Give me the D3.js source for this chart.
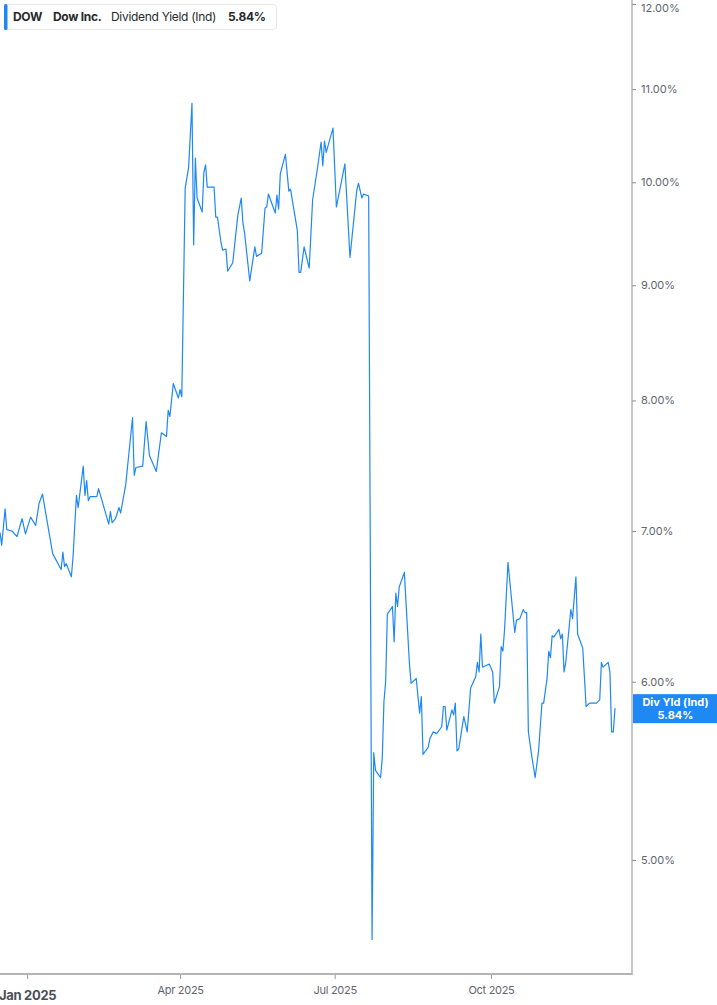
<!DOCTYPE html>
<html>
<head>
<meta charset="utf-8">
<script src="https://cdn.jsdelivr.net/npm/d3@7"></script>
<style>
  body { margin: 0; background: #fff; }
  svg { display: block; font-family: Inter, "Open Sans", sans-serif; }
</style>
</head>
<body>
<svg id="chart" width="717" height="1005"></svg>
<script>
var dates = [
  "2024-12-16","2024-12-17","2024-12-19","2024-12-20","2024-12-23","2024-12-26","2024-12-29","2024-12-31",
  "2025-01-03","2025-01-06","2025-01-08","2025-01-10","2025-01-16","2025-01-21","2025-01-22","2025-01-23",
  "2025-01-24","2025-01-27","2025-01-28","2025-01-30","2025-01-31","2025-02-03","2025-02-04","2025-02-05",
  "2025-02-06","2025-02-07","2025-02-11","2025-02-12","2025-02-18","2025-02-19","2025-02-20","2025-02-22",
  "2025-02-24","2025-02-25","2025-02-28","2025-03-04","2025-03-05","2025-03-06","2025-03-10","2025-03-12",
  "2025-03-14","2025-03-18","2025-03-21","2025-03-24","2025-03-25","2025-03-26","2025-03-28","2025-03-31",
  "2025-04-01","2025-04-02","2025-04-04","2025-04-06","2025-04-08","2025-04-09","2025-04-10","2025-04-11",
  "2025-04-14","2025-04-15","2025-04-16","2025-04-17","2025-04-21","2025-04-22","2025-04-23","2025-04-25",
  "2025-04-26","2025-04-28","2025-04-29","2025-05-02","2025-05-05","2025-05-07","2025-05-08","2025-05-09",
  "2025-05-12","2025-05-15","2025-05-16","2025-05-19","2025-05-21","2025-05-22","2025-05-23","2025-05-27",
  "2025-05-28","2025-05-29","2025-05-30","2025-06-02","2025-06-04","2025-06-05","2025-06-09","2025-06-10",
  "2025-06-11","2025-06-13","2025-06-16","2025-06-18","2025-06-21","2025-06-23","2025-06-24","2025-06-25",
  "2025-06-26","2025-06-30","2025-07-02","2025-07-07","2025-07-10","2025-07-14","2025-07-15","2025-07-17",
  "2025-07-18","2025-07-21","2025-07-23","2025-07-24","2025-07-25","2025-07-28","2025-07-29","2025-07-30",
  "2025-07-31","2025-08-01","2025-08-04","2025-08-05","2025-08-06","2025-08-07","2025-08-08","2025-08-11",
  "2025-08-14","2025-08-15","2025-08-18","2025-08-20","2025-08-21","2025-08-22","2025-08-25","2025-08-26",
  "2025-08-28","2025-08-30","2025-09-02","2025-09-03","2025-09-04","2025-09-05","2025-09-08","2025-09-09",
  "2025-09-10","2025-09-11","2025-09-12","2025-09-15","2025-09-17","2025-09-19","2025-09-22","2025-09-23",
  "2025-09-24","2025-09-25","2025-09-26","2025-09-30","2025-10-02","2025-10-03","2025-10-06","2025-10-07",
  "2025-10-08","2025-10-09","2025-10-11","2025-10-13","2025-10-15","2025-10-16","2025-10-18","2025-10-20",
  "2025-10-21","2025-10-22","2025-10-23","2025-10-25","2025-10-27","2025-10-29","2025-10-31","2025-11-01",
  "2025-11-03","2025-11-04","2025-11-05","2025-11-06","2025-11-07","2025-11-10","2025-11-11","2025-11-12",
  "2025-11-13","2025-11-14","2025-11-17","2025-11-18","2025-11-20","2025-11-21","2025-11-24","2025-11-26",
  "2025-11-28","2025-12-02","2025-12-04","2025-12-05","2025-12-06","2025-12-09","2025-12-10","2025-12-11",
  "2025-12-12","2025-12-13"
];

var yields = [
  6.99, 6.90, 7.16, 7.01, 7.00, 6.96, 7.09, 6.98,
  7.10, 7.04, 7.20, 7.27, 6.84, 6.73, 6.85, 6.75,
  6.77, 6.68, 6.82, 7.26, 7.17, 7.48, 7.26, 7.37,
  7.22, 7.25, 7.25, 7.31, 7.05, 7.14, 7.06, 7.09,
  7.17, 7.13, 7.34, 7.86, 7.41, 7.47, 7.48, 7.83,
  7.56, 7.44, 7.74, 7.71, 7.92, 7.87, 8.14, 8.02,
  8.09, 8.03, 9.94, 10.15, 10.84, 9.38, 10.25, 9.84,
  9.70, 10.10, 10.18, 9.95, 9.95, 9.65, 9.65, 9.41,
  9.33, 9.34, 9.13, 9.21, 9.67, 9.84, 9.59, 9.49,
  9.04, 9.36, 9.27, 9.30, 9.74, 9.75, 9.88, 9.69,
  9.87, 9.73, 10.09, 10.29, 9.91, 9.93, 9.52, 9.12,
  9.12, 9.36, 9.16, 9.82, 10.16, 10.42, 10.17, 10.43,
  10.31, 10.57, 9.75, 10.19, 9.26, 9.92, 9.99, 9.84,
  9.88, 9.86, 4.61, 5.58, 5.48, 5.44, 5.55, 5.88,
  6.00, 6.43, 6.48, 6.25, 6.57, 6.48, 6.61, 6.71,
  6.11, 5.99, 6.02, 5.81, 5.91, 5.57, 5.61, 5.66,
  5.70, 5.69, 5.73, 5.85, 5.85, 5.71, 5.83, 5.80,
  5.87, 5.59, 5.60, 5.79, 5.70, 5.96, 6.03, 6.12,
  6.06, 6.30, 6.09, 6.11, 6.06, 5.87, 5.97, 6.22,
  6.19, 6.33, 6.78, 6.54, 6.31, 6.39, 6.40, 6.46,
  6.44, 6.44, 5.70, 5.56, 5.44, 5.59, 5.87, 5.87,
  6.02, 6.19, 6.15, 6.29, 6.28, 6.33, 6.27, 6.30,
  6.06, 6.12, 6.46, 6.40, 6.68, 6.30, 6.21, 5.85,
  5.87, 5.87, 5.89, 6.12, 6.09, 6.12, 6.06, 5.70,
  5.70, 5.84
];

var yTicks = [5, 6, 7, 8, 9, 10, 11, 12];
var xTickDates = ["2025-01-01", "2025-04-01", "2025-07-01", "2025-10-01"];
var xTickLabels = ["Jan 2025", "Apr 2025", "Jul 2025", "Oct 2025"];

var ticker = "DOW", company = "Dow Inc.", metric = "Dividend Yield (Ind)";
var lastValue = yields[yields.length - 1];

var parse = d3.timeParse("%Y-%m-%d");
var data = dates.map(function(d, i) { return { date: parse(d), value: yields[i] }; });

var width = 717, height = 1005;
var plotRight = 632, plotBottom = 974;
var blue = "#1e88f5";

var svg = d3.select("#chart");

var xScale = d3.scaleTime()
  .domain([parse("2024-12-16"), parse("2025-12-23")])
  .range([0, plotRight]);

var yScale = d3.scaleLog()
  .domain([5, 12])
  .range([860, 4]);

// right axis
var yAxis = d3.axisRight(yScale)
  .tickValues(yTicks)
  .tickSize(4)
  .tickPadding(5)
  .tickFormat(function(d) { return d3.format(".2f")(d) + "%"; });

var gy = svg.append("g")
  .attr("transform", "translate(" + plotRight + ",0)")
  .call(yAxis);
gy.select(".domain").remove();
gy.selectAll(".tick line").attr("stroke", "#888").attr("stroke-width", 1);
gy.selectAll(".tick text")
  .attr("fill", "#5f6670")
  .style("font-size", "11px")
  .style("font-family", "Inter, sans-serif");
// keep the top label inside the picture
gy.selectAll(".tick text").filter(function(d) { return d === 12; })
  .attr("dy", "0.68em");

svg.append("line")
  .attr("x1", plotRight).attr("x2", plotRight)
  .attr("y1", 0).attr("y2", plotBottom + 1)
  .attr("stroke", "#a0a0a0").attr("stroke-width", 1.2);

// bottom axis
var xAxis = d3.axisBottom(xScale)
  .tickValues(xTickDates.map(parse))
  .tickSize(4)
  .tickPadding(7)
  .tickFormat(function(d, i) { return xTickLabels[i]; });

var gx = svg.append("g")
  .attr("transform", "translate(0," + (plotBottom + 1) + ")")
  .call(xAxis);
gx.select(".domain").remove();
gx.selectAll(".tick line").attr("stroke", "#999");
gx.selectAll(".tick text")
  .attr("fill", "#5f6670")
  .style("font-size", "11px")
  .style("font-family", "Inter, sans-serif")
  .style("letter-spacing", "-0.3px");
gx.selectAll(".tick text").filter(function(d, i) { return i === 0; })
  .attr("fill", "#4a4f57")
  .attr("dy", "1.05em")
  .style("font-size", "13px")
  .style("font-weight", "bold");

svg.append("line")
  .attr("x1", 0).attr("x2", plotRight)
  .attr("y1", plotBottom).attr("y2", plotBottom)
  .attr("stroke", "#b4b4b4").attr("stroke-width", 2);

// line
var line = d3.line()
  .x(function(d) { return xScale(d.date); })
  .y(function(d) { return yScale(d.value); });

svg.append("path")
  .datum(data)
  .attr("d", line)
  .attr("fill", "none")
  .attr("stroke", blue)
  .attr("stroke-width", 1.2)
  .attr("stroke-linejoin", "round");

// last value tag
var tagY = yScale(lastValue);
svg.append("rect")
  .attr("x", plotRight + 1).attr("y", tagY - 14)
  .attr("width", width - plotRight - 1).attr("height", 29)
  .attr("fill", blue);
svg.append("text")
  .attr("x", (plotRight + width) / 2 + 1).attr("y", tagY - 2)
  .attr("text-anchor", "middle")
  .attr("fill", "#fff")
  .style("font-size", "11px").style("font-weight", "bold")
  .text("Div Yld (Ind)");
svg.append("text")
  .attr("x", (plotRight + width) / 2 + 1).attr("y", tagY + 11)
  .attr("text-anchor", "middle")
  .attr("fill", "#fff")
  .style("font-size", "11px").style("font-weight", "bold")
  .text(d3.format(".2f")(lastValue) + "%");

// legend box
var legend = svg.append("g");
legend.append("rect")
  .attr("x", 4.5).attr("y", 4.5).attr("width", 272).attr("height", 25)
  .attr("rx", 3)
  .attr("fill", "#fff").attr("stroke", "#e6e8eb");
legend.append("rect")
  .attr("x", 4).attr("y", 4).attr("width", 3.5).attr("height", 26)
  .attr("rx", 1.5)
  .attr("fill", blue);
var legendItems = [
  { text: ticker, x: 13, bold: true },
  { text: company, x: 53, bold: true },
  { text: metric, x: 111, bold: false },
  { text: d3.format(".2f")(lastValue) + "%", x: 228, bold: true }
];
legend.selectAll("text.item")
  .data(legendItems)
  .enter().append("text")
  .attr("class", "item")
  .attr("x", function(d) { return d.x; })
  .attr("y", 21)
  .attr("fill", "#26292e")
  .style("font-size", "12px")
  .style("font-weight", function(d) { return d.bold ? "bold" : "normal"; })
  .style("letter-spacing", "-0.3px")
  .text(function(d) { return d.text; });
</script>
</body>
</html>
